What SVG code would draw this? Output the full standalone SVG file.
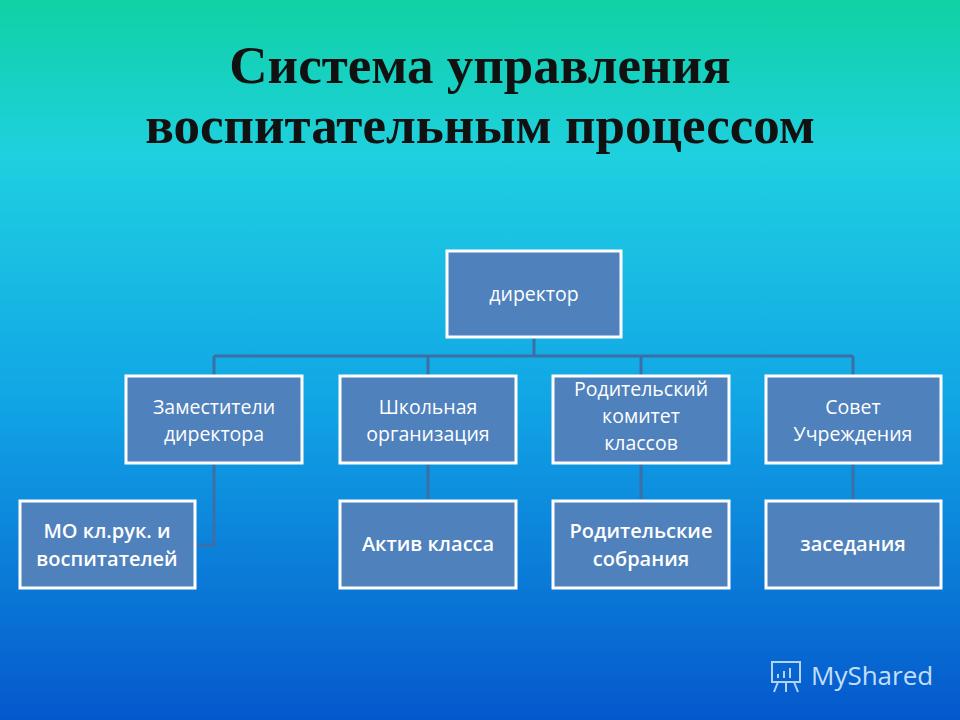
<svg xmlns="http://www.w3.org/2000/svg" width="960" height="720" viewBox="0 0 960 720">
<defs>
<linearGradient id="bg" x1="0" y1="0" x2="0" y2="1">
<stop offset="0" stop-color="#0fd2a4"/>
<stop offset="0.22" stop-color="#1fd0e0"/>
<stop offset="0.55" stop-color="#11a6e6"/>
<stop offset="1" stop-color="#0558cc"/>
</linearGradient>
<style>
.box{fill:#4f81bd;stroke:#fff;stroke-width:3}
.t{font-family:"Open Sans","DejaVu Sans",sans-serif;font-size:19.5px;fill:#fff;text-anchor:middle}
.b{font-weight:600;font-size:20px}
.c{fill:none;stroke:#3c6fa8;stroke-width:3}
</style>
</defs>
<rect width="960" height="720" fill="url(#bg)"/>
<g font-family="Liberation Serif,serif" font-weight="bold" font-size="53" fill="#111" text-anchor="middle">
<text x="480" y="83">Система управления</text>
<text x="480" y="143">воспитательным процессом</text>
</g>
<g id="connectors">
<path class="c" d="M534 337V356M214 356H853M214 356V376M428 356V376M641 356V376M853 356V376"/>
<path class="c" d="M214 463V545H195M428 463V501M641 463V501M853 463V501"/>
</g>
<g id="n-director"><rect class="box" x="447" y="251" width="174" height="86"/><text class="t" x="534" y="301">директор</text></g>
<g id="n-zam"><rect class="box" x="126" y="376" width="176" height="87"/><text class="t" x="214" y="414">Заместители</text><text class="t" x="214" y="441">директора</text></g>
<g id="n-school"><rect class="box" x="340" y="376" width="176" height="87"/><text class="t" x="428" y="414">Школьная</text><text class="t" x="428" y="441">организация</text></g>
<g id="n-parcom"><rect class="box" x="553" y="376" width="176" height="87"/><text class="t" x="641" y="396">Родительский</text><text class="t" x="641" y="423">комитет</text><text class="t" x="641" y="450">классов</text></g>
<g id="n-sovet"><rect class="box" x="766" y="376" width="175" height="87"/><text class="t" x="853" y="414">Совет</text><text class="t" x="853" y="441">Учреждения</text></g>
<g id="n-mo"><rect class="box" x="20" y="501" width="175" height="87"/><text class="t b" x="107" y="538">МО кл.рук. и</text><text class="t b" x="107" y="566">воспитателей</text></g>
<g id="n-aktiv"><rect class="box" x="340" y="501" width="176" height="87"/><text class="t b" x="428" y="551">Актив класса</text></g>
<g id="n-sobr"><rect class="box" x="553" y="501" width="176" height="87"/><text class="t b" x="641" y="538">Родительские</text><text class="t b" x="641" y="566">собрания</text></g>
<g id="n-zased"><rect class="box" x="766" y="501" width="175" height="87"/><text class="t b" x="853" y="551">заседания</text></g>
<g opacity="0.85" fill="none" stroke="#cfe8ff" stroke-width="2">
<rect x="772" y="662" width="28" height="20"/>
<path d="M778 682l-4 10M794 682l4 10M786 682v10M778 678v-4M784 678v-7M790 678v-10"/>
</g>
<text x="811" y="685" font-family="Open Sans,sans-serif" font-size="26" fill="#d8ecff" opacity="0.9">MyShared</text>
</svg>
